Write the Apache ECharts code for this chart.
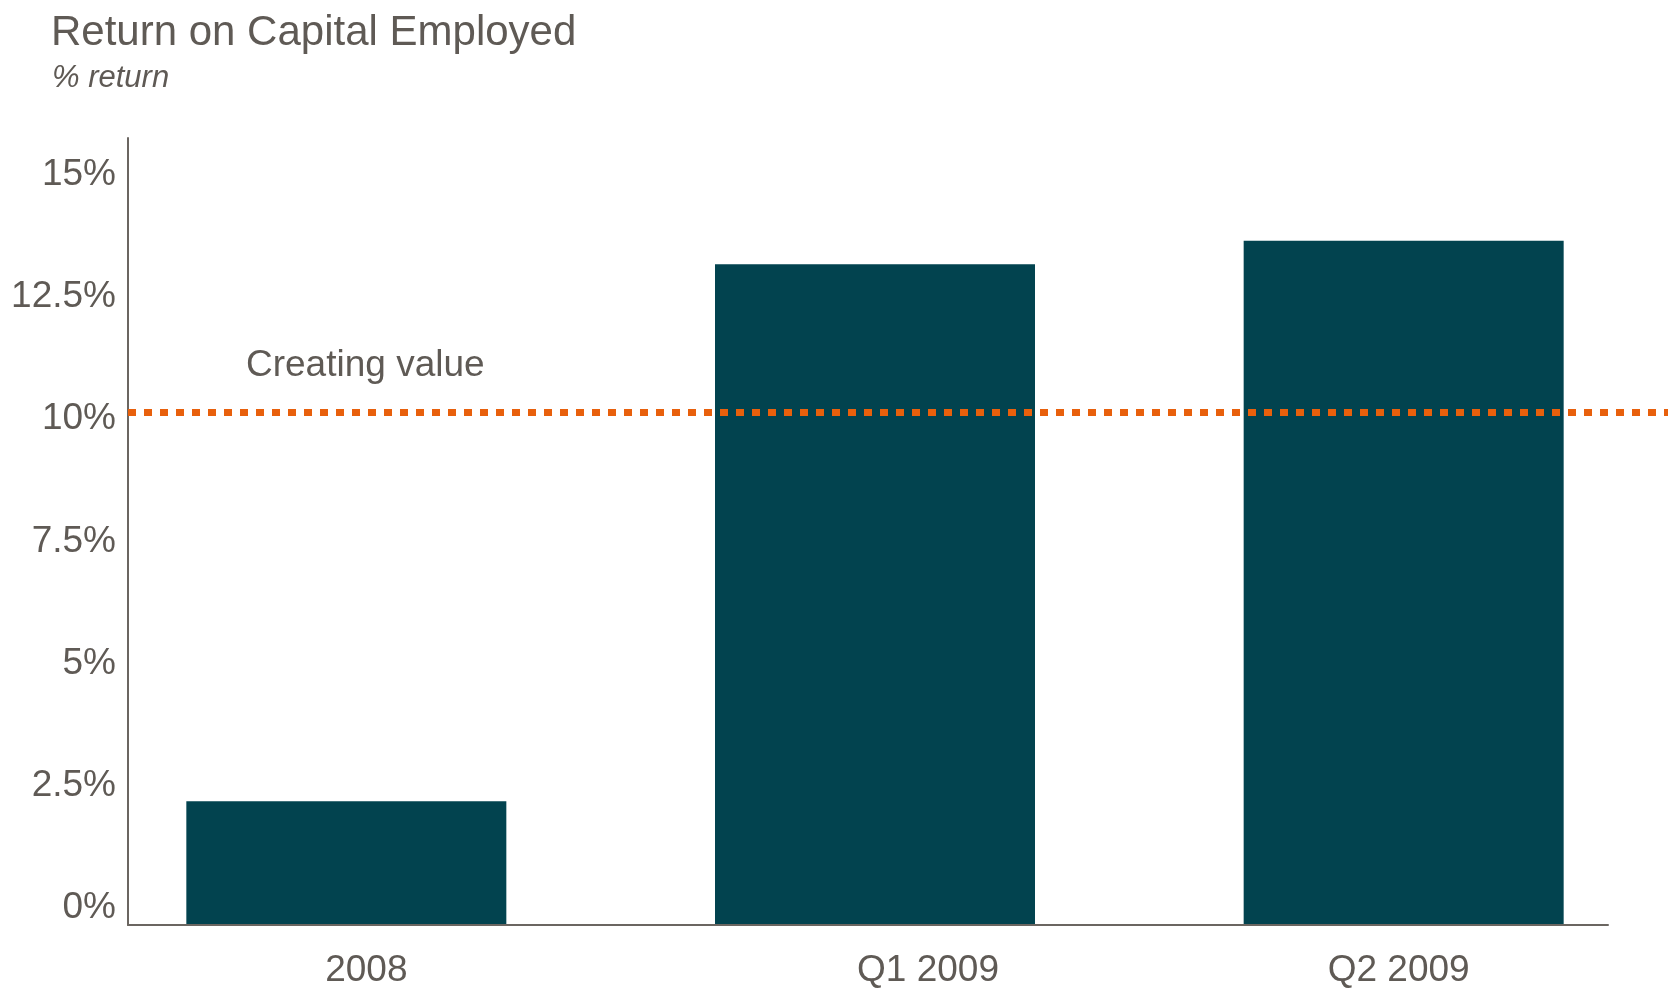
<!DOCTYPE html>
<html>
<head>
<meta charset="utf-8">
<script src="https://cdn.jsdelivr.net/npm/echarts@6/dist/echarts.min.js"></script>
<style>
  html, body { margin: 0; padding: 0; background: #fff; }
  #chart { width: 1668px; height: 989px; }
</style>
</head>
<body>
<div id="chart"></div>
<script>
// data
const categories = ['2008', 'Q1 2009', 'Q2 2009'];
const roce = [2.52, 13.55, 14.03];
const threshold = 10.48;
const yTicks = [0, 2.5, 5, 7.5, 10, 12.5, 15];
const yMax = 16.1;

const textColor = '#5f5a55';
const axisColor = '#6b6661';
const font = '"Liberation Sans", Arial, sans-serif';

const chart = echarts.init(document.getElementById('chart'));

// the category labels in the source sit a bit off the bar centres
const labelRich = {
  c0: { padding: [0, 0, 0, 40] },
  c1: { padding: [0, 0, 0, 106] },
  c2: { padding: [0, 10, 0, 0] }
};

const option = {
  animation: false,
  textStyle: { fontFamily: font },
  title: [
    {
      text: 'Return on Capital Employed',
      left: 46, top: 7,
      textStyle: { color: textColor, fontSize: 42, fontWeight: 'normal', fontFamily: font }
    },
    {
      text: '% return',
      left: 47, top: 58,
      textStyle: { color: textColor, fontSize: 31, fontStyle: 'italic', fontWeight: 'normal', fontFamily: font }
    }
  ],
  grid: [
    // 0: bars + category labels (bands are wider than the drawn axis)
    { left: 82, right: 0, top: 140, bottom: 62 },
    // 1: the visible axes
    { left: 128, right: 60, top: 138, bottom: 64 },
    // 2: dotted line running to the page edge
    { left: 128, right: 0, top: 138, bottom: 64 }
  ],
  xAxis: [
    {
      type: 'category',
      gridIndex: 0,
      data: categories,
      axisLine: { show: false },
      axisTick: { show: false },
      axisLabel: {
        color: textColor,
        fontSize: 37,
        margin: 28,
        fontFamily: font,
        formatter: (v, i) => '{c' + i + '|' + v + '}',
        rich: labelRich
      }
    },
    {
      type: 'category',
      gridIndex: 1,
      data: categories,
      axisLine: { show: true, lineStyle: { color: axisColor, width: 2 } },
      axisTick: { show: false },
      axisLabel: { show: false },
      z: 10
    },
    { type: 'category', gridIndex: 2, data: categories, show: false }
  ],
  yAxis: [
    { type: 'value', gridIndex: 0, min: 0, max: yMax, show: false },
    {
      type: 'value',
      gridIndex: 1,
      min: 0,
      max: yMax,
      interval: 2.5,
      splitLine: { show: false },
      axisTick: { show: false },
      axisLine: { show: true, lineStyle: { color: axisColor, width: 2 } },
      axisLabel: {
        color: textColor,
        fontSize: 37,
        margin: 12,
        verticalAlign: 'bottom',
        lineHeight: 34,
        showMaxLabel: false,
        fontFamily: font,
        formatter: v => yTicks.indexOf(v) >= 0 ? v + '%' : ''
      }
    },
    { type: 'value', gridIndex: 2, min: 0, max: yMax, show: false }
  ],
  series: [
    {
      type: 'bar',
      xAxisIndex: 0,
      yAxisIndex: 0,
      data: roce,
      barWidth: 320,
      itemStyle: { color: '#02434f' },
      z: 2
    },
    {
      type: 'line',
      xAxisIndex: 2,
      yAxisIndex: 2,
      data: [],
      showSymbol: false,
      z: 5,
      markLine: {
        silent: true,
        symbol: ['none', 'none'],
        lineStyle: { color: '#e8600c', width: 7, type: [8, 8], opacity: 1 },
        label: {
          show: true,
          position: 'insideStartTop',
          distance: [118, 28],
          formatter: 'Creating value',
          color: textColor,
          fontSize: 37,
          fontFamily: font
        },
        data: [{ yAxis: threshold }]
      }
    }
  ]
};

chart.setOption(option);
</script>
</body>
</html>
